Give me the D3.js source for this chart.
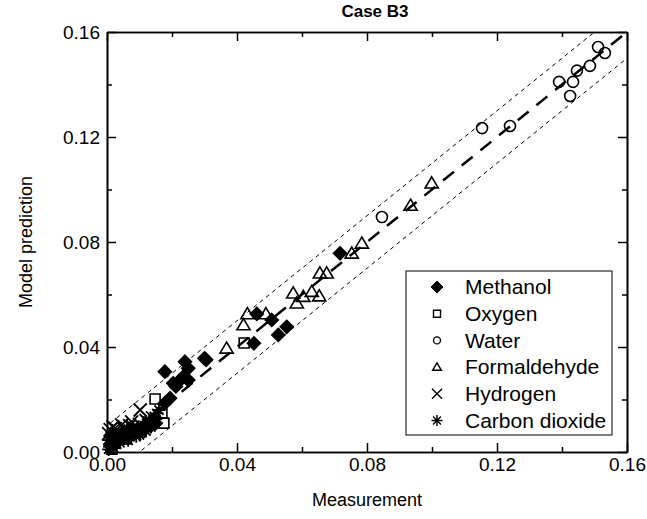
<!doctype html>
<html>
<head>
<meta charset="utf-8">
<style>
	body { margin: 0; background: #fff; }
	svg text { font-family: Arial, "Liberation Sans", sans-serif; fill: #000; }
</style>
</head>
<body>
<div class="chart"></div>
<script src="https://d3js.org/d3.v7.min.js"></script>
<script>
	// [measurement, model prediction]
	let methanol = [[0.0717, 0.0757], [0.0553, 0.0477], [0.0527, 0.0446], [0.0507, 0.0503], [0.0461, 0.0526],
		[0.0452, 0.0414], [0.0305, 0.0351], [0.0300, 0.0357], [0.0240, 0.0344], [0.0250, 0.0319],
		[0.0178, 0.0306], [0.0235, 0.0287], [0.0225, 0.0274], [0.0250, 0.0274], [0.0204, 0.0262],
		[0.0212, 0.0250], [0.0194, 0.0205], [0.0178, 0.0186], [0.0120, 0.0095], [0.0090, 0.0080],
		[0.0060, 0.0070], [0.0030, 0.0050], [0.0010, 0.0030], [0.0015, 0.0045], [0.0045, 0.0060],
		[0.0075, 0.0075], [0.0105, 0.0085], [0.0135, 0.0100], [0.0150, 0.0110]];
	let oxygen = [[0.0422, 0.0415], [0.0148, 0.0202], [0.0169, 0.0149], [0.0175, 0.0110], [0.0015, 0.0011],
		[0.0060, 0.0050], [0.0100, 0.0075]];
	let water = [[0.0846, 0.0895], [0.1154, 0.1234], [0.1240, 0.1242], [0.1391, 0.1410], [0.1434, 0.1410],
		[0.1446, 0.1453], [0.1425, 0.1356], [0.1486, 0.1471], [0.1511, 0.1543], [0.1532, 0.1520]];
	let formaldehyde = [[0.0999, 0.1024], [0.0934, 0.0939], [0.0784, 0.0795], [0.0753, 0.0757], [0.0655, 0.0681],
		[0.0676, 0.0681], [0.0573, 0.0605], [0.0604, 0.0592], [0.0584, 0.0567], [0.0630, 0.0611],
		[0.0653, 0.0594], [0.0432, 0.0526], [0.0489, 0.0526], [0.0420, 0.0484], [0.0368, 0.0395]];
	let hydrogen = [[0.0102, 0.0160], [0.0076, 0.0115], [0.0045, 0.0103], [0.0018, 0.0096], [0.0005, 0.0070],
		[0.0030, 0.0070], [0.0060, 0.0085], [0.0090, 0.0090], [0.0110, 0.0095], [0.0130, 0.0110],
		[0.0020, 0.0050], [0.0040, 0.0060], [0.0010, 0.0085], [0.0025, 0.0090], [0.0035, 0.0080],
		[0.0050, 0.0090], [0.0070, 0.0100], [0.0080, 0.0095], [0.0100, 0.0105], [0.0120, 0.0120],
		[0.0140, 0.0130], [0.0015, 0.0040], [0.0065, 0.0065], [0.0085, 0.0070]];
	let carbonDioxide = [[0.0153, 0.0147], [0.0142, 0.0115], [0.0122, 0.0109], [0.0135, 0.0095], [0.0110, 0.0085],
		[0.0095, 0.0075], [0.0080, 0.0068], [0.0070, 0.0060], [0.0055, 0.0058], [0.0045, 0.0050],
		[0.0035, 0.0045], [0.0025, 0.0040], [0.0015, 0.0030], [0.0008, 0.0020], [0.0005, 0.0045],
		[0.0012, 0.0055], [0.0150, 0.0125], [0.0100, 0.0065], [0.0065, 0.0045], [0.0030, 0.0030],
		[0.0020, 0.0015], [0.0010, 0.0060], [0.0020, 0.0065], [0.0035, 0.0060], [0.0050, 0.0070],
		[0.0060, 0.0075], [0.0075, 0.0080], [0.0085, 0.0082], [0.0105, 0.0090], [0.0115, 0.0100],
		[0.0125, 0.0095], [0.0130, 0.0120], [0.0005, 0.0010], [0.0015, 0.0045], [0.0040, 0.0035],
		[0.0090, 0.0060], [0.0120, 0.0080], [0.0140, 0.0105], [0.0160, 0.0160], [0.0145, 0.0135]];

	let seriesNames = ["Methanol", "Oxygen", "Water", "Formaldehyde", "Hydrogen", "Carbon dioxide"];
	let seriesData = [methanol, oxygen, water, formaldehyde, hydrogen, carbonDioxide];
	let seriesSymbols = ["diamond", "square", "circle", "triangle", "cross", "star"];

	let majorTicks = [0, 0.04, 0.08, 0.12, 0.16];
	let minorTicks = [0.02, 0.06, 0.10, 0.14];
	let bandOffset = 0.01;

	let width = 647,
		height = 519,
		margin = { top: 32, right: 20, bottom: 67, left: 107 };

	let svg = d3.select(".chart")
		.append("svg")
		.attr("width", width)
		.attr("height", height);

	let x = d3.scaleLinear().domain([0, 0.16]).range([margin.left, width - margin.right]);
	let y = d3.scaleLinear().domain([0, 0.16]).range([height - margin.bottom, margin.top]);

	// marker path, r is half size
	function symbolPath(type, r) {
		let p = d3.path();
		if (type == "diamond") {
			p.moveTo(0, -r); p.lineTo(r, 0); p.lineTo(0, r); p.lineTo(-r, 0); p.closePath();
		} else if (type == "square") {
			p.rect(-r, -r, 2 * r, 2 * r);
		} else if (type == "circle") {
			p.arc(0, 0, r, 0, 2 * Math.PI);
		} else if (type == "triangle") {
			p.moveTo(0, -r * 1.05); p.lineTo(r * 1.1, r * 0.8); p.lineTo(-r * 1.1, r * 0.8); p.closePath();
		} else if (type == "cross") {
			p.moveTo(-r, -r); p.lineTo(r, r); p.moveTo(-r, r); p.lineTo(r, -r);
		} else if (type == "star") {
			for (let k = 0; k < 4; k++) {
				let a = k * Math.PI / 4;
				p.moveTo(-r * Math.cos(a), -r * Math.sin(a));
				p.lineTo(r * Math.cos(a), r * Math.sin(a));
			}
		}
		return p.toString();
	}

	let markerSize = { diamond: 6.5, square: 5, circle: 5.5, triangle: 6, cross: 6.5, star: 6.5 };
	let legendSize = { diamond: 6, square: 3.5, circle: 3.5, triangle: 4, cross: 5, star: 5.5 };

	let plot = svg.append("g");

	// clip to frame
	svg.append("clipPath").attr("id", "clip")
		.append("rect")
		.attr("x", x(0)).attr("y", y(0.16))
		.attr("width", x(0.16) - x(0)).attr("height", y(0) - y(0.16));

	let lines = plot.append("g").attr("clip-path", "url(#clip)");
	let lineF = d3.line().x(d => x(d[0])).y(d => y(d[1]));

	// +-0.01 band
	[-bandOffset, bandOffset].forEach(o => {
		lines.append("path")
			.attr("d", lineF([[-0.02, -0.02 + o], [0.18, 0.18 + o]]))
			.attr("fill", "none")
			.attr("stroke", "#000")
			.attr("stroke-width", 1)
			.attr("stroke-dasharray", "4,4");
	});

	// parity line
	lines.append("path")
		.attr("d", lineF([[0, 0], [0.16, 0.16]]))
		.attr("fill", "none")
		.attr("stroke", "#000")
		.attr("stroke-width", 2.5)
		.attr("stroke-dasharray", "14,10");

	// points
	seriesData.forEach((data, i) => {
		let type = seriesSymbols[i];
		plot.append("g").selectAll("path")
			.data(data)
			.join("path")
			.attr("transform", d => "translate(" + x(d[0]) + "," + y(d[1]) + ")")
			.attr("d", symbolPath(type, markerSize[type]))
			.attr("fill", type == "diamond" ? "#000" : "none")
			.attr("stroke", "#000")
			.attr("stroke-width", type == "star" || type == "cross" ? 1.8 : 1.6);
	});

	// axes
	let fmt = d3.format(".2f");
	let x0 = y(0), y0 = x(0);

	function addAxis(axis, tx, ty, labels) {
		let g = svg.append("g")
			.attr("transform", "translate(" + tx + "," + ty + ")")
			.call(axis);
		g.select(".domain").attr("stroke-width", 1.6);
		g.selectAll(".tick line").attr("stroke-width", 1.5);
		g.selectAll("text").style("font-size", "19px");
		if (!labels) g.selectAll("text").remove();
		return g;
	}

	addAxis(d3.axisBottom(x).tickValues(majorTicks).tickFormat(fmt).tickSizeInner(-9).tickSizeOuter(0).tickPadding(6), 0, x0, true);
	addAxis(d3.axisBottom(x).tickValues(minorTicks).tickSizeInner(-5).tickSizeOuter(0), 0, x0, false);
	addAxis(d3.axisTop(x).tickValues(majorTicks).tickSizeInner(-9).tickSizeOuter(0), 0, y(0.16), false);
	addAxis(d3.axisTop(x).tickValues(minorTicks).tickSizeInner(-5).tickSizeOuter(0), 0, y(0.16), false);
	addAxis(d3.axisLeft(y).tickValues(majorTicks).tickFormat(fmt).tickSizeInner(-9).tickSizeOuter(0).tickPadding(7), y0, 0, true);
	addAxis(d3.axisLeft(y).tickValues(minorTicks).tickSizeInner(-5).tickSizeOuter(0), y0, 0, false);
	addAxis(d3.axisRight(y).tickValues(majorTicks).tickSizeInner(-9).tickSizeOuter(0), x(0.16), 0, false);
	addAxis(d3.axisRight(y).tickValues(minorTicks).tickSizeInner(-5).tickSizeOuter(0), x(0.16), 0, false);

	// titles
	svg.append("text")
		.attr("x", (x(0) + x(0.16)) / 2 + 8)
		.attr("y", 17)
		.attr("text-anchor", "middle")
		.style("font-size", "17px")
		.style("font-weight", "bold")
		.text("Case B3");

	svg.append("text")
		.attr("x", (x(0) + x(0.16)) / 2)
		.attr("y", 506)
		.attr("text-anchor", "middle")
		.style("font-size", "18px")
		.text("Measurement");

	svg.append("text")
		.attr("transform", "translate(32," + ((y(0) + y(0.16)) / 2) + ") rotate(-90)")
		.attr("text-anchor", "middle")
		.style("font-size", "18px")
		.text("Model prediction");

	// legend
	let legend = svg.append("g");
	legend.append("rect")
		.attr("x", 406).attr("y", 271)
		.attr("width", 206).attr("height", 164)
		.attr("fill", "#fff")
		.attr("stroke", "#000")
		.attr("stroke-width", 1);

	seriesNames.forEach((name, i) => {
		let ly = 287 + i * 26.7;
		let type = seriesSymbols[i];
		legend.append("path")
			.attr("transform", "translate(437," + ly + ")")
			.attr("d", symbolPath(type, legendSize[type]))
			.attr("fill", type == "diamond" ? "#000" : "none")
			.attr("stroke", "#000")
			.attr("stroke-width", type == "diamond" ? 1 : 1.4);
		legend.append("text")
			.attr("x", 465)
			.attr("y", ly)
			.attr("dy", "0.35em")
			.style("font-size", "21px")
			.text(name);
	});
</script>
</body>
</html>
